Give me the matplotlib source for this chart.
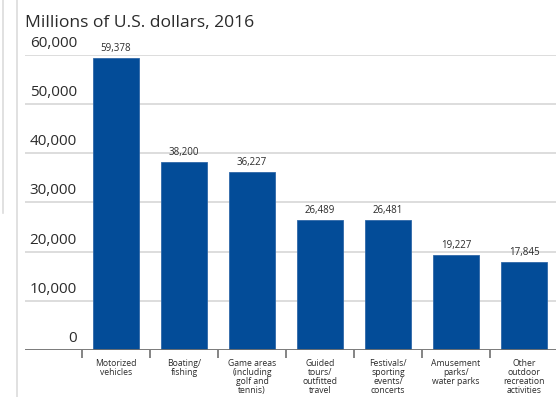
import matplotlib.pyplot as plt
from matplotlib.lines import Line2D

plt.rcParams['font.family'] = ['Open Sans', 'DejaVu Sans']

# Outdoor recreation spending by activity, millions of U.S. dollars (2016)
categories = [
    "Motorized\nvehicles",
    "Boating/\nfishing",
    "Game areas\n(including\ngolf and\ntennis)",
    "Guided\ntours/\noutfitted\ntravel",
    "Festivals/\nsporting\nevents/\nconcerts",
    "Amusement\nparks/\nwater parks",
    "Other\noutdoor\nrecreation\nactivities",
]
values = [59378, 38200, 36227, 26489, 26481, 19227, 17845]
y_ticks = [0, 10000, 20000, 30000, 40000, 50000, 60000]

bar_color = "#034c98"
grid_color = "#dadada"
axis_color = "#707070"
text_color = "#2b2b2b"

W, H = 556, 397
fig = plt.figure(figsize=(W / 100, H / 100), dpi=100)
ax = fig.add_axes([25 / W, (H - 350) / H, (W - 25) / W, 295 / H])

x = list(range(len(categories)))
ax.bar(x, values, width=0.68, color=bar_color, edgecolor="#2f68a8",
       linewidth=0.6, zorder=3)

ax.set_xlim(-1.338, 6.471)
ax.set_ylim(0, 60000)

# horizontal gridlines with labels sitting just above each line
for v in y_ticks[1:]:
    ax.axhline(v, color=grid_color, lw=1.3, zorder=1)
ax.axhline(0, color=axis_color, lw=1.3, zorder=4)
for v in y_ticks:
    ax.annotate(f"{v:,}", xy=(0, v), xycoords=ax.get_yaxis_transform(),
                xytext=(52, 4), textcoords="offset pixels",
                ha="right", va="bottom", fontsize=11, color=text_color)

# category boundary ticks below the baseline
ax.set_xticks([i - 0.5 for i in x])
ax.set_xticklabels([])
ax.tick_params(axis="x", length=6, width=1.2, color=axis_color)
ax.set_yticks([])
for s in ax.spines.values():
    s.set_visible(False)

for i, (lab, v) in enumerate(zip(categories, values)):
    ax.annotate(f"{v:,}", xy=(i, v), xytext=(0, 4), textcoords="offset pixels",
                ha="center", va="bottom", fontsize=7, color=text_color)
    ax.annotate(lab, xy=(i, 0), xytext=(0, -9), textcoords="offset pixels",
                ha="center", va="top", fontsize=6.2, color=text_color,
                linespacing=0.98)

fig.text(25 / W, 1 - 27 / H, "Millions of U.S. dollars, 2016",
         ha="left", va="baseline", fontsize=12.6, color=text_color)

# thin page rules on the left edge
fig.add_artist(Line2D([2.5 / W, 2.5 / W], [1, 1 - 213 / H], color="#dcdcdc", lw=1.2))
fig.add_artist(Line2D([17 / W, 17 / W], [0, 1], color="#dcdcdc", lw=1.2))

fig.savefig("out.png", dpi=100)
